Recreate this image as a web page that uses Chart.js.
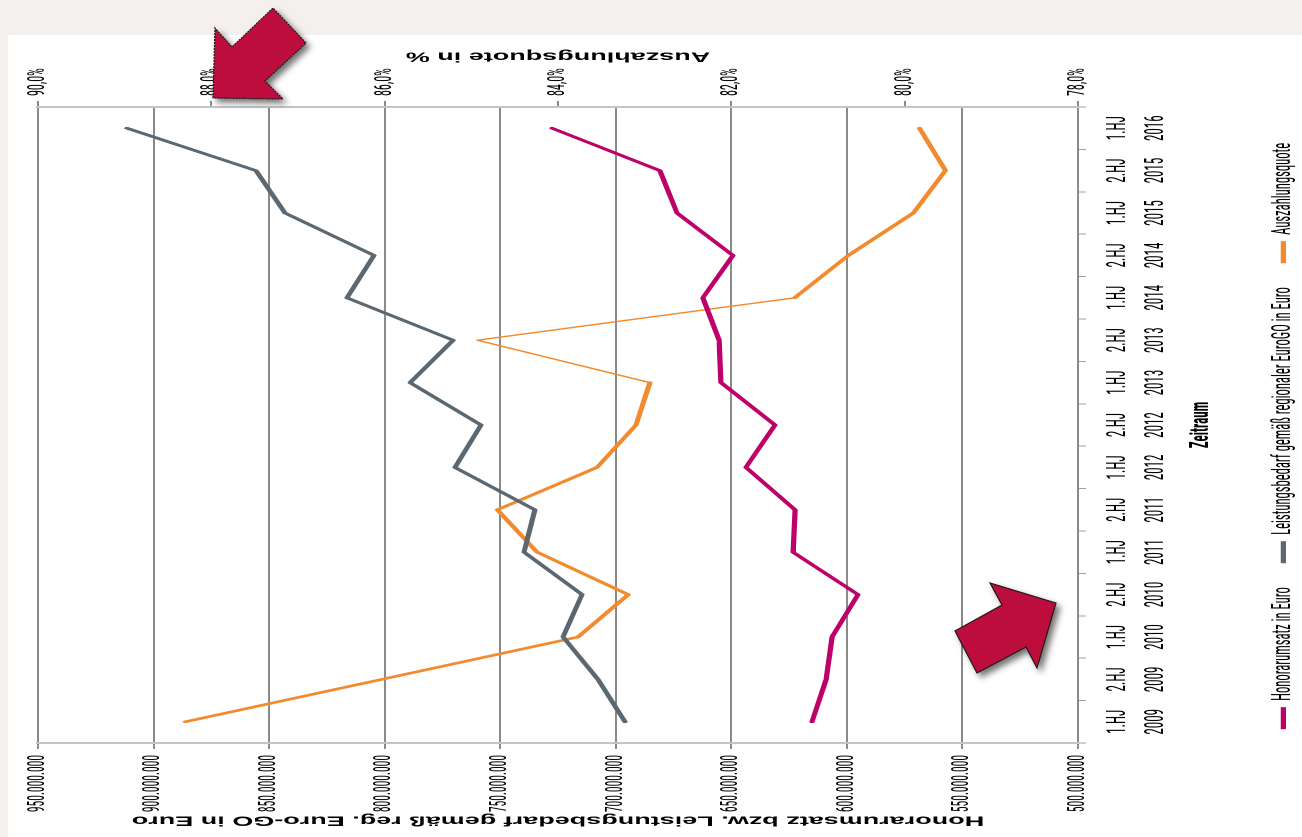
<!DOCTYPE html>
<html lang="de">
<head>
<meta charset="utf-8">
<title>Honorarumsatz, Leistungsbedarf und Auszahlungsquote</title>
<script src="https://cdn.jsdelivr.net/npm/chart.js@4.4.1/dist/chart.umd.min.js"></script>
<style>
  html, body { margin: 0; padding: 0; }
  body { width: 1302px; height: 837px; background: #f3f0ed; overflow: hidden; position: relative; }
  /* Diagramm wird hochkant gezeichnet, senkrecht gestreckt und dann gedreht */
  #panel {
    position: absolute; left: 0; top: 0; width: 802px; height: 647px; background: #fff;
    transform-origin: 0 0; transform: matrix(0, -1, 2, 0, 8, 837);
  }
  #pfeile { position: absolute; left: 0; top: 0; pointer-events: none; }
</style>
</head>
<body>
<div id="panel"><canvas id="quoteChart" width="802" height="647"></canvas></div>

<svg id="pfeile" width="1302" height="837">
  <defs>
    <filter id="schatten" x="-40%" y="-40%" width="180%" height="180%">
      <feDropShadow dx="4" dy="4" stdDeviation="3" flood-color="#000" flood-opacity="0.55"/>
    </filter>
  </defs>
  <polygon points="213,98 215,28 232,47 273,8 306,43 265,81 283,99" fill="#bd0a3c"
           stroke="#1a1a1a" stroke-width="1.2" stroke-dasharray="2,1" filter="url(#schatten)"/>
  <polygon points="1056,603 990,583 1002,605 955,631 977,673 1026,647 1037,668" fill="#bd0a3c"
           stroke="#1a1a1a" stroke-width="1.2" filter="url(#schatten)"/>
</svg>

<script>
/* =========================================
   Daten (Halbjahre 2009 - 2016)
   ========================================= */
var zeitraum = [
    ['1.HJ', '2009'], ['2.HJ', '2009'], ['1.HJ', '2010'], ['2.HJ', '2010'],
    ['1.HJ', '2011'], ['2.HJ', '2011'], ['1.HJ', '2012'], ['2.HJ', '2012'],
    ['1.HJ', '2013'], ['2.HJ', '2013'], ['1.HJ', '2014'], ['2.HJ', '2014'],
    ['1.HJ', '2015'], ['2.HJ', '2015'], ['1.HJ', '2016']
];

// Euro
var honorarumsatz = [615100000, 609000000, 606400000, 595200000, 623300000, 622400000, 643700000, 631100000,
                     654500000, 655300000, 662300000, 649300000, 673500000, 680900000, 727600000];
var leistungsbedarf = [696000000, 707700000, 722800000, 714600000, 739700000, 735000000, 769600000, 758300000,
                       789000000, 770400000, 816300000, 804600000, 843100000, 855700000, 911500000];

// Prozent (2.HJ 2009 fehlt)
var auszahlungsquote = [88.3, null, 83.77, 83.19, 84.24, 84.70, 83.55, 83.10,
                        82.94, 84.93, 81.27, 80.65, 79.90, 79.53, 79.83];

// Achsen
var euroMin = 500000000, euroMax = 950000000, euroSchritt = 50000000;
var quoteMin = 78, quoteMax = 90, quoteSchritt = 2;

var schmal = "'Roboto Condensed', 'DejaVu Sans Condensed', sans-serif";
var breit = "'Liberation Sans', Arial, sans-serif";

function euroFormat(v) {
    return String(v).replace(/\B(?=(\d{3})+(?!\d))/g, '.');
}

// duenne Abschnitte der Quote (Luecke und 2.HJ 2013)
function quoteBreite(ctx) {
    var a = ctx.p0DataIndex, b = ctx.p1DataIndex;
    if (b - a > 1 || a === 9 || b === 9) return 1.4;
    return 2.6;
}

// rechter Achsentitel, von unten nach oben gelesen
var rechterTitel = {
    id: 'rechterTitel',
    afterDraw: function(chart) {
        var ctx = chart.ctx, area = chart.chartArea;
        ctx.save();
        ctx.translate(chart.width - 21, (area.top + area.bottom) / 2);
        ctx.rotate(-Math.PI / 2);
        ctx.font = 'bold 13.5px ' + breit;
        ctx.fillStyle = '#000';
        ctx.textAlign = 'center';
        ctx.textBaseline = 'middle';
        ctx.fillText('Auszahlungsquote in %', 0, 0);
        ctx.restore();
    }
};

var quoteCtx = document.getElementById('quoteChart').getContext('2d');

var quoteChart = new Chart(quoteCtx, {
    type: 'line',
    data: {
        labels: zeitraum,
        datasets: [{
            label: 'Honorarumsatz in Euro',
            data: honorarumsatz,
            yAxisID: 'y',
            borderColor: '#be006a',
            backgroundColor: '#be006a',
            borderWidth: 2.6
        }, {
            label: 'Leistungsbedarf gemäß regionaler EuroGO in Euro',
            data: leistungsbedarf,
            yAxisID: 'y',
            borderColor: '#5b6871',
            backgroundColor: '#5b6871',
            borderWidth: 2.6
        }, {
            label: 'Auszahlungsquote',
            data: auszahlungsquote,
            yAxisID: 'y1',
            borderColor: '#f28a2e',
            backgroundColor: '#f28a2e',
            borderWidth: 2.6,
            spanGaps: true,
            segment: { borderWidth: quoteBreite }
        }]
    },
    options: {
        responsive: false,
        animation: false,
        devicePixelRatio: 2,
        elements: {
            point: { radius: 0, hoverRadius: 0 },
            line: { tension: 0, borderJoinStyle: 'round', borderCapStyle: 'round', fill: false }
        },
        layout: { padding: { top: 15, left: 0, right: 0, bottom: -7 } },
        plugins: {
            legend: {
                position: 'bottom',
                labels: {
                    usePointStyle: true,
                    pointStyle: 'line',
                    pointStyleWidth: 22,
                    padding: 24,
                    color: '#000',
                    font: { family: schmal, size: 12.6 }
                }
            },
            tooltip: { enabled: false }
        },
        scales: {
            x: {
                offset: true,
                grid: { offset: true, drawOnChartArea: false, tickLength: 4, color: '#a0a0a0' },
                border: { display: false },
                ticks: {
                    autoSkip: false, maxRotation: 0, padding: 7, color: '#000',
                    font: { family: schmal, size: 13, lineHeight: 1.45 }
                },
                title: {
                    display: true, text: 'Zeitraum', color: '#000',
                    font: { family: schmal, size: 13, weight: 'bold' },
                    padding: { top: 0, bottom: 2.8 }
                },
                afterFit: function(s) { s.height = 72.4; }
            },
            y: {
                position: 'left',
                min: euroMin, max: euroMax,
                ticks: {
                    stepSize: euroSchritt, padding: 6, color: '#000',
                    font: { family: schmal, size: 11.5 },
                    callback: function(v) { return euroFormat(v); }
                },
                grid: { color: '#8a8a8a', lineWidth: 1, tickLength: 6, tickColor: '#8a8a8a' },
                border: { display: true, color: '#c4c4c4', width: 2 },
                title: {
                    display: true,
                    text: 'Honorarumsatz bzw. Leistungsbedarf gemäß reg. Euro-GO in Euro',
                    color: '#000',
                    font: { family: breit, size: 13.5, weight: 'bold' },
                    padding: { top: 8.5, bottom: 0 }
                },
                afterFit: function(s) { s.width = 94; }
            },
            y1: {
                position: 'right',
                min: quoteMin, max: quoteMax,
                ticks: {
                    stepSize: quoteSchritt, padding: 5, color: '#000',
                    font: { family: schmal, size: 12 },
                    callback: function(v) { return v.toFixed(1).replace('.', ',') + '%'; }
                },
                grid: { drawOnChartArea: false, tickLength: 6, color: '#8a8a8a' },
                border: { display: true, color: '#c4c4c4', width: 2 },
                afterFit: function(s) { s.width = 72; }
            }
        }
    },
    plugins: [rechterTitel]
});
</script>
</body>
</html>
